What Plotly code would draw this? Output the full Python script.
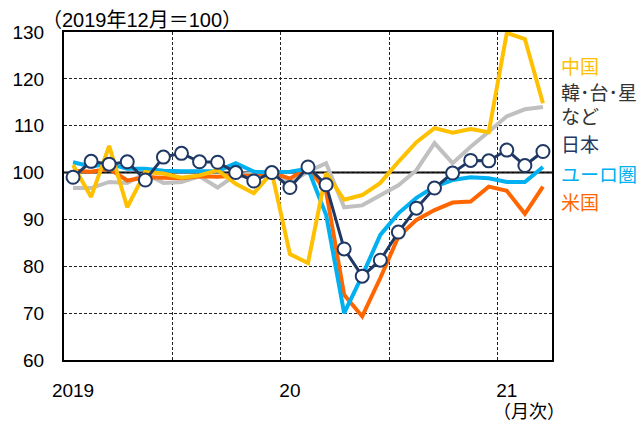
import plotly.graph_objects as go

# Monthly index, Jan 2019 - Mar 2021 (Dec 2019 = 100)
months = list(range(27))
tick_positions = [0, 12, 24]
tick_labels = ["2019", "20", "21"]

china = [101.6, 94.8, 105.7, 92.6, 100.1, 99.8, 98.9, 99.4, 100.5, 97.6, 95.6, 100.0,
         82.6, 80.7, 99.9, 94.2, 95.2, 97.8, 102.3, 106.5, 109.5, 108.5, 109.3, 108.6,
         129.8, 128.5, 114.8]
asia_nies = [96.7, 96.7, 98.0, 97.8, 99.8, 97.8, 98.0, 99.2, 96.8, 99.5, 99.8, 100.0,
             97.8, 100.2, 102.0, 92.6, 93.0, 95.2, 97.3, 100.5, 106.3, 102.0, 105.5, 108.7,
             112.0, 113.5, 114.0]
japan = [99.0, 102.4, 101.8, 102.3, 98.4, 103.3, 104.1, 102.3, 102.2, 100.0, 98.2, 100.0,
         96.8, 101.2, 97.4, 83.7, 77.9, 81.3, 87.3, 92.4, 96.7, 99.9, 102.6, 102.5,
         104.8, 101.5, 104.5]
euro = [102.2, 101.3, 101.9, 100.8, 100.8, 100.4, 100.3, 100.3, 100.3, 102.0, 100.2, 100.0,
        100.2, 100.8, 91.0, 70.0, 78.0, 86.7, 91.3, 94.6, 97.0, 98.4, 99.0, 98.8,
        98.0, 98.0, 101.2]
usa = [100.4, 100.2, 100.8, 98.3, 99.0, 98.8, 98.8, 99.2, 99.1, 99.3, 99.4, 100.0,
       98.7, 101.1, 96.0, 73.9, 69.3, 77.5, 86.3, 89.9, 92.0, 93.6, 93.8, 97.0,
       96.1, 91.2, 97.0]

C_CHINA = "#FFC000"
C_ASIA = "#C0C0C0"
C_JAPAN = "#1F3864"
C_EURO = "#00B0F0"
C_USA = "#FF6600"

FONT = "Liberation Sans, Arial, Noto Sans CJK JP, sans-serif"

fig = go.Figure()
fig.add_trace(go.Scatter(x=months, y=asia_nies, mode="lines",
                         line=dict(color=C_ASIA, width=4), name="韓・台・星など"))
fig.add_trace(go.Scatter(x=months, y=usa, mode="lines",
                         line=dict(color=C_USA, width=4), name="米国"))
fig.add_trace(go.Scatter(x=months, y=euro, mode="lines",
                         line=dict(color=C_EURO, width=4), name="ユーロ圏"))
fig.add_trace(go.Scatter(x=months, y=china, mode="lines",
                         line=dict(color=C_CHINA, width=4), name="中国"))
fig.add_trace(go.Scatter(x=months, y=japan, mode="lines+markers",
                         line=dict(color=C_JAPAN, width=3),
                         marker=dict(size=13, color="white",
                                     line=dict(color=C_JAPAN, width=2)),
                         name="日本"))

# Base line at 100
fig.add_shape(type="line", xref="paper", x0=0, x1=1, yref="y", y0=100, y1=100,
              line=dict(color="black", width=2), layer="below")

fig.update_xaxes(
    range=[-0.5, 26.5],
    tickmode="array", tickvals=tick_positions, ticktext=tick_labels,
    showgrid=False, showline=True, mirror=True, linecolor="black", linewidth=2,
    ticks="outside", ticklen=12, tickcolor="rgba(0,0,0,0)",
    tickfont=dict(family=FONT, size=19, color="black"),
    minor=dict(tickmode="array", tickvals=[5.5, 11.5, 17.5, 23.5], showgrid=True,
               gridcolor="#222222", griddash="3px,2px", gridwidth=1, ticks=""),
    zeroline=False,
)
fig.update_yaxes(
    range=[60, 130], tickmode="linear", tick0=60, dtick=10,
    showgrid=True, gridcolor="#222222", griddash="3px,2px", gridwidth=1,
    showline=True, mirror=True, linecolor="black", linewidth=2,
    ticks="outside", ticklen=14, tickcolor="rgba(0,0,0,0)",
    tickfont=dict(family=FONT, size=19, color="black"),
    zeroline=False,
)

L, R, T, B = 61, 91, 32, 61
W, H = 643, 421
pw, ph = W - L - R, H - T - B


def px_x(x):
    return (x - L) / pw


def px_y(y):
    return (H - B - y) / ph


labels = [
    ("中国", C_CHINA, 67),
    ("韓･台･星", "#333333", 93),
    ("など", "#333333", 117),
    ("日本", C_JAPAN, 145),
    ("ユーロ圏", C_EURO, 175),
    ("米国", C_USA, 203),
]
annotations = []
for text, color, ypix in labels:
    annotations.append(dict(text=text, xref="paper", yref="paper",
                            x=px_x(559), y=px_y(ypix), xanchor="left", yanchor="middle",
                            showarrow=False,
                            font=dict(family=FONT, size=19, color=color)))
annotations.append(dict(text="（2019年12月＝100）", xref="paper", yref="paper",
                        x=px_x(37), y=px_y(20), xanchor="left", yanchor="middle",
                        showarrow=False, font=dict(family=FONT, size=20, color="black")))
annotations.append(dict(text="（月次）", xref="paper", yref="paper",
                        x=px_x(529), y=px_y(412), xanchor="center", yanchor="middle",
                        showarrow=False, font=dict(family=FONT, size=18, color="black")))

fig.update_layout(
    width=W, height=H,
    margin=dict(l=L, r=R, t=T, b=B),
    paper_bgcolor="white", plot_bgcolor="white",
    showlegend=False,
    annotations=annotations,
)

fig.write_html("out.html")
